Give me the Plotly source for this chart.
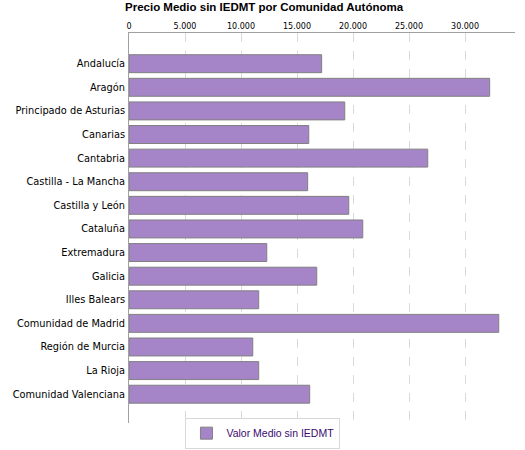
import plotly.graph_objects as go

regions = ["Andalucía", "Aragón", "Principado de Asturias", "Canarias", "Cantabria",
           "Castilla - La Mancha", "Castilla y León", "Cataluña", "Extremadura", "Galicia",
           "Illes Balears", "Comunidad de Madrid", "Región de Murcia", "La Rioja",
           "Comunidad Valenciana"]
values = [17200, 32200, 19260, 16050, 26670,
          15950, 19620, 20870, 12300, 16760,
          11580, 33010, 11050, 11580, 16130]
tick_vals = [0, 5000, 10000, 15000, 20000, 25000, 30000]

fig = go.Figure()
fig.add_trace(go.Bar(
    y=regions, x=values, orientation="h",
    name="Valor Medio sin IEDMT",
    marker=dict(color="#A584C8", line=dict(color="#808080", width=1)),
    showlegend=True,
))

fig.update_layout(
    width=525, height=450,
    margin=dict(l=129, r=10, t=33, b=27, autoexpand=False),
    paper_bgcolor="white", plot_bgcolor="white",
    separators=",.",
    bargap=0.24,
    title=dict(text="<b>Precio Medio sin IEDMT por Comunidad Autónoma</b>",
               x=0.503, xanchor="center", y=0.993, yanchor="top",
               font=dict(family="Liberation Sans, Arial", size=11.5, color="black")),
    xaxis=dict(side="top", range=[0, 34460], tickvals=tick_vals, tickformat=",d",
               showgrid=True, gridcolor="#DADADA", griddash="dash", gridwidth=1,
               zeroline=False, showline=True, linecolor="#A0A0A0", linewidth=1,
               ticks="", ticklabelstandoff=0,
               tickfont=dict(family="DejaVu Sans", size=8, color="black")),
    yaxis=dict(categoryorder="array", categoryarray=regions,
               range=[15.22, -1.3], showgrid=False, zeroline=False,
               showline=True, linecolor="#A0A0A0", linewidth=1, ticks="",
               ticklabelstandoff=1,
               tickfont=dict(family="DejaVu Sans", size=9.8, color="black")),
    legend=dict(orientation="h", x=0.347, xanchor="center",
                yref="container", y=0.003, yanchor="bottom",
                bordercolor="#D8D8D8", borderwidth=1, bgcolor="white",
                font=dict(family="Liberation Sans, Arial", size=10.5, color="#3A0A70"),
                itemwidth=30),
)

fig.write_html("out.html")
